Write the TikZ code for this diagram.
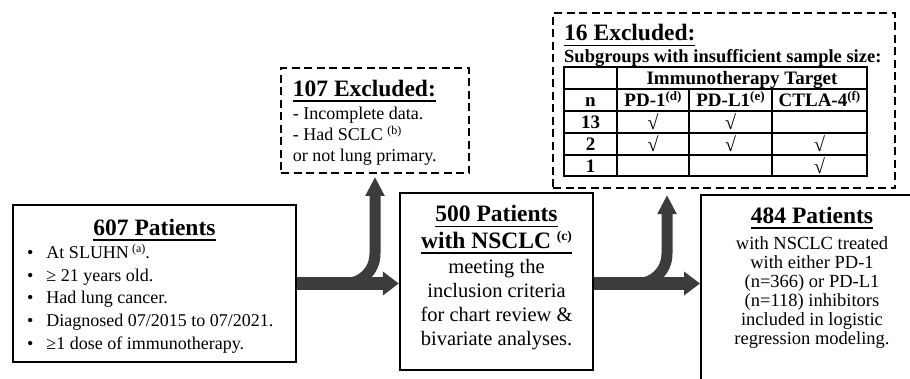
\documentclass[tikz,border=0pt]{standalone}
\usepackage{fontspec}
\setmainfont{Liberation Serif}
\usetikzlibrary{arrows.meta}
\definecolor{arrowgray}{HTML}{3C3C3C}
\newsavebox\ulbox
\newcommand\myul[1]{\sbox\ulbox{#1}\rlap{\rule[-5.5pt]{\wd\ulbox}{1.5pt}}\usebox\ulbox}
\newcommand\sups[3]{\raisebox{#1}{\fontsize{#2}{#2}\selectfont #3}}
\newcommand\headfont{\fontsize{23.5}{26}\selectfont\bfseries}
\newcommand\cellfont{\fontsize{19}{21}\selectfont\bfseries}
\newcommand\chkfont{\fontsize{20}{22}\selectfont\mdseries}
\begin{document}
\begin{tikzpicture}[x=1pt,y=-1pt,
  solidbox/.style={draw, line width=2.4pt, inner sep=0pt},
  dashbox/.style={draw, line width=1.8pt, dash pattern=on 8pt off 4.5pt, inner sep=0pt},
  txt/.style={inner sep=0pt, anchor=base},
  txtw/.style={inner sep=0pt, anchor=base west},
  flow/.style={draw=arrowgray, line width=13pt, -{Triangle[length=16pt,width=23pt]}},
  branch/.style={draw=arrowgray, line width=11pt, -{Triangle[length=19pt,width=18pt]}},
  tabline/.style={line width=1.3pt}]
\useasboundingbox (0,0) rectangle (910,378);
\clip (0,0) rectangle (910,378);

% boxes
\node[solidbox, minimum width=283pt, minimum height=157pt] (p607) at (154.5,283.5) {};
\node[dashbox, minimum width=188pt, minimum height=105pt] (ex107) at (375,120.5) {};
\node[solidbox, minimum width=193pt, minimum height=177pt] (p500) at (496.5,281.5) {};
\node[dashbox, minimum width=342pt, minimum height=175pt] (ex16) at (724,100.5) {};
\node[solidbox, minimum width=224pt, minimum height=210pt, anchor=north west] (p484) at (700,194) {};

% 607 box text
\node[txt] (h607) at (154.5,235) {\headfont\myul{607 Patients}};
\node[txtw] (l607) at (27,258.3) {\fontsize{18}{22.8}\selectfont
  \begin{tabular}[t]{@{}l@{\hspace{13pt}}l@{}}
  \textbullet & At SLUHN\,\sups{6pt}{12}{(a)}.\\
  \textbullet & ≥ 21 years old.\\
  \textbullet & Had lung cancer.\\
  \textbullet & Diagnosed 07/2015 to 07/2021.\\
  \textbullet & ≥1 dose of immunotherapy.
  \end{tabular}};

% 107 box text
\node[txtw] (h107) at (292.7,96) {\headfont\myul{107 Excluded:}};
\node[txtw] (l107) at (292.7,119.3) {\fontsize{18}{21.2}\selectfont
  \begin{tabular}[t]{@{}l@{}}- Incomplete data.\\- Had SCLC~\sups{6pt}{12}{(b)}\\or not lung primary.\end{tabular}};

% 500 box text
\node[txt] (h500a) at (496.5,221.7) {\headfont\myul{500 Patients}};
\node[txt] (h500b) at (496.5,248.3) {\headfont\myul{with NSCLC~\sups{8pt}{13.5}{(c)}}};
\node[txt] (b500) at (496.5,273.3) {\fontsize{20.5}{24.1}\selectfont
  \begin{tabular}[t]{@{}c@{}}meeting the\\inclusion criteria\\for chart review \&\\bivariate analyses.\end{tabular}};

% 484 box text
\node[txt] (h484) at (812,223.3) {\headfont\myul{484 Patients}};
\node[txt] (b484) at (812,249) {\fontsize{18.5}{19}\selectfont
  \begin{tabular}[t]{@{}c@{}}with NSCLC treated\\with either PD-1\\(n=366) or PD-L1\\(n=118) inhibitors\\included in logistic\\regression modeling.\end{tabular}};

% 16 box text
\node[txtw] (h16) at (564,40.5) {\headfont\myul{16 Excluded:}};
\node[txtw] (s16) at (564,62) {\fontsize{18.5}{20}\selectfont\bfseries Subgroups with insufficient sample size:};

% table
\draw[tabline] (564,67) rectangle (867,176);
\foreach \yy in {89,111,133,155} \draw[tabline] (564,\yy) -- (867,\yy);
\draw[tabline] (617,67) -- (617,176);
\draw[tabline] (689,89) -- (689,176);
\draw[tabline] (772,89) -- (772,176);
\node[txt] (tTarget) at (742,84.5) {\cellfont Immunotherapy Target};
\node[txt] (tn) at (590.5,106.5) {\cellfont n};
\node[txt] (tPD1) at (653,106.5) {\cellfont PD-1\sups{6.5pt}{13}{(d)}};
\node[txt] (tPDL1) at (730.5,106.5) {\cellfont PD-L1\sups{6.5pt}{13}{(e)}};
\node[txt] (tCTLA) at (819.5,106.5) {\cellfont CTLA-4\sups{6.5pt}{13}{(f)}};
\node[txt] (tr1) at (590.5,128.5) {\cellfont 13};
\node[txt] (tr2) at (590.5,150.5) {\cellfont 2};
\node[txt] (tr3) at (590.5,172) {\cellfont 1};
\node[txt] (c11) at (653,129.5) {\chkfont √};
\node[txt] (c12) at (730.5,129.5) {\chkfont √};
\node[txt] (c21) at (653,151.5) {\chkfont √};
\node[txt] (c22) at (730.5,151.5) {\chkfont √};
\node[txt] (c23) at (819.5,151.5) {\chkfont √};
\node[txt] (c33) at (819.5,173) {\chkfont √};

% arrows
\coordinate (b2) at (667,188);
\coordinate (j1) at (p607.east -| ex107.south);
\coordinate (j2) at ([yshift=-2pt]p500.east -| b2);
\draw[branch, shorten >=3pt] (p607.east) -- ([xshift=-30pt]j1)
  .. controls ([xshift=-13pt]j1) and ([yshift=13pt]j1) .. ([yshift=30pt]j1) -- (ex107.south);
\draw[flow] (p607.east) -- (p607.east -| p500.west);
\draw[branch, shorten >=7pt] ([yshift=-2pt]p500.east) -- ([xshift=-30pt]j2)
  .. controls ([xshift=-13pt]j2) and ([yshift=13pt]j2) .. ([yshift=30pt]j2) -- (b2);
\draw[flow] ([yshift=-2pt]p500.east) -- ([yshift=-2pt]p500.east -| p484.west);
\end{tikzpicture}
\end{document}
